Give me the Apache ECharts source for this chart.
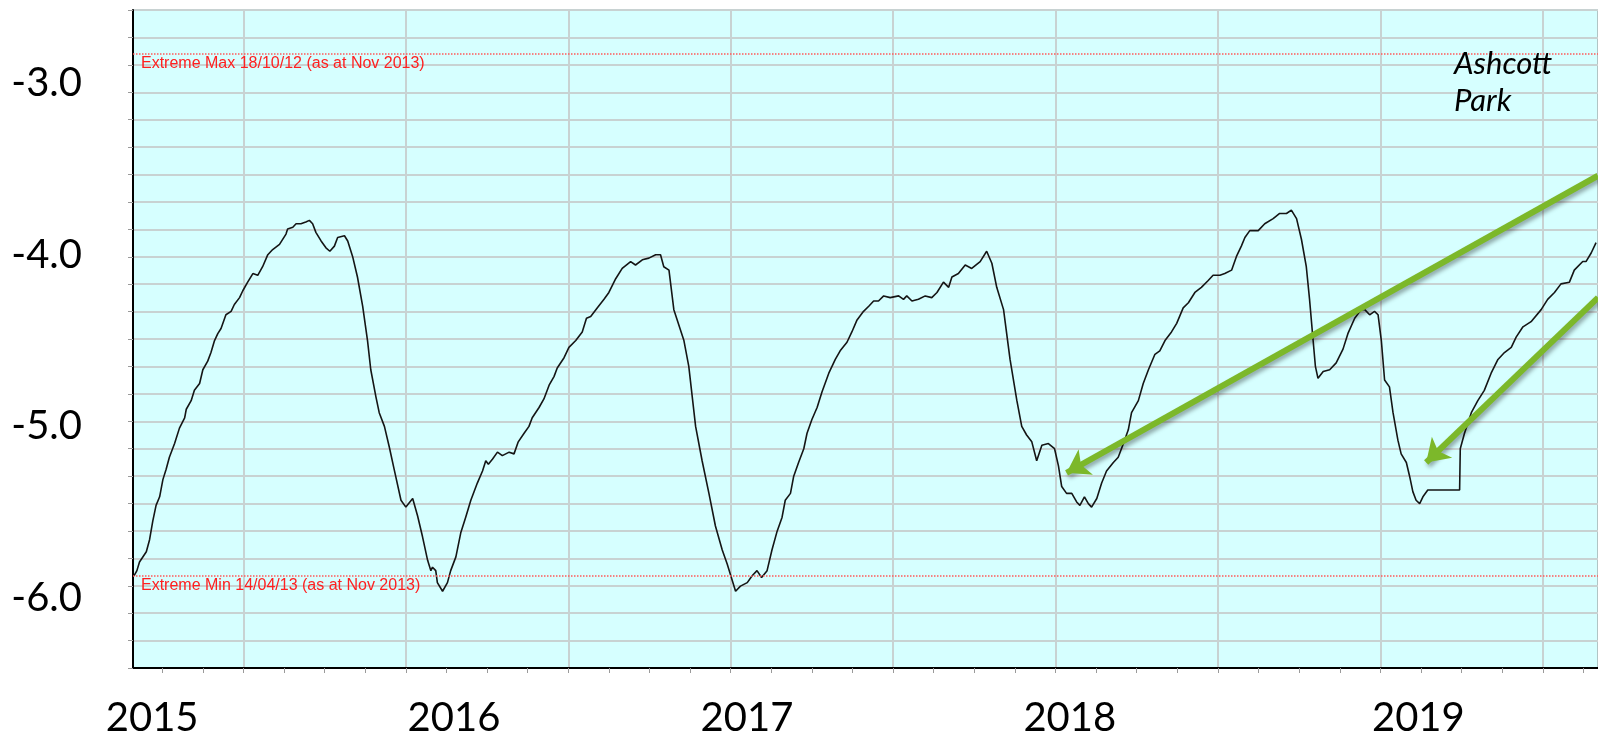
<!DOCTYPE html>
<html>
<head>
<meta charset="utf-8">
<title>Ashcott Park</title>
<script src="https://cdn.jsdelivr.net/npm/echarts@6/dist/echarts.min.js"></script>
<style>
    html, body { margin: 0; padding: 0; background: #fff; }
    #main { width: 1598px; height: 742px; }
</style>
</head>
<body>
<div id="main"></div>
<script>
// time in decimal years, level in m
var dates = [
    2015.663, 2015.672, 2015.680, 2015.701, 2015.711, 2015.721, 2015.731, 2015.742, 2015.752, 2015.762,
    2015.772, 2015.788, 2015.803, 2015.819, 2015.824, 2015.839, 2015.849, 2015.865, 2015.875, 2015.890,
    2015.900, 2015.911, 2015.921, 2015.931, 2015.946, 2015.962, 2015.972, 2015.988, 2015.998, 2016.013,
    2016.029, 2016.044, 2016.059, 2016.075, 2016.090, 2016.111, 2016.131, 2016.136, 2016.152, 2016.162,
    2016.177, 2016.192, 2016.203, 2016.213, 2016.223, 2016.239, 2016.254, 2016.266, 2016.280, 2016.290,
    2016.311, 2016.321, 2016.336, 2016.351, 2016.367, 2016.382, 2016.392, 2016.408, 2016.418, 2016.434,
    2016.449, 2016.464, 2016.485, 2016.500, 2016.521, 2016.536, 2016.551, 2016.567, 2016.577,
    2016.582, 2016.592, 2016.597, 2016.613, 2016.628, 2016.638, 2016.654, 2016.669, 2016.684, 2016.700,
    2016.720, 2016.736, 2016.746, 2016.754, 2016.767, 2016.782, 2016.797, 2016.818, 2016.833, 2016.846,
    2016.864, 2016.879, 2016.889, 2016.910, 2016.925, 2016.941, 2016.956, 2016.966, 2016.987, 2017.002,
    2017.023, 2017.043, 2017.056, 2017.069, 2017.089, 2017.110, 2017.125, 2017.146, 2017.166, 2017.192,
    2017.207, 2017.228, 2017.248, 2017.269, 2017.284, 2017.294, 2017.310, 2017.325, 2017.356, 2017.371,
    2017.392, 2017.412, 2017.433, 2017.453, 2017.474, 2017.489, 2017.502,
    2017.504, 2017.515, 2017.530, 2017.551, 2017.566, 2017.581, 2017.595, 2017.612, 2017.627, 2017.643,
    2017.658, 2017.668, 2017.684, 2017.694, 2017.709, 2017.725, 2017.735, 2017.750, 2017.766, 2017.781,
    2017.802, 2017.822, 2017.837, 2017.858, 2017.873, 2017.889, 2017.909, 2017.925, 2017.940, 2017.955,
    2017.971, 2017.991, 2018.017, 2018.032, 2018.042, 2018.058, 2018.078, 2018.099, 2018.119, 2018.135,
    2018.155, 2018.171, 2018.181, 2018.201, 2018.222, 2018.242, 2018.268, 2018.288, 2018.304, 2018.319,
    2018.340, 2018.360, 2018.381, 2018.396, 2018.411, 2018.427,
    2018.442, 2018.458, 2018.478, 2018.497, 2018.509, 2018.519, 2018.534, 2018.550, 2018.565, 2018.575,
    2018.589, 2018.601, 2018.611, 2018.627, 2018.642, 2018.657, 2018.678, 2018.693, 2018.709, 2018.724,
    2018.734, 2018.755, 2018.770, 2018.786, 2018.806, 2018.821, 2018.837, 2018.857, 2018.873, 2018.893,
    2018.909, 2018.929, 2018.949, 2018.970, 2018.985, 2019.006, 2019.021, 2019.042, 2019.057, 2019.072,
    2019.083, 2019.098, 2019.124, 2019.144, 2019.170, 2019.190, 2019.211, 2019.226, 2019.242, 2019.257,
    2019.272, 2019.282, 2019.293, 2019.300, 2019.308, 2019.324, 2019.344,
    2019.349, 2019.364, 2019.385, 2019.400, 2019.421, 2019.441, 2019.452, 2019.467, 2019.482, 2019.493,
    2019.503, 2019.513, 2019.528, 2019.539, 2019.554, 2019.564, 2019.580, 2019.590, 2019.600, 2019.610,
    2019.621, 2019.631, 2019.646, 2019.744, 2019.746, 2019.759, 2019.780, 2019.800, 2019.820, 2019.841,
    2019.862, 2019.882, 2019.903, 2019.918, 2019.939, 2019.964, 2019.995, 2020.015, 2020.036, 2020.056,
    2020.082, 2020.097, 2020.123, 2020.133, 2020.149, 2020.164
];
var levels = [
    -5.87, -5.84, -5.79, -5.73, -5.66, -5.55, -5.46, -5.41, -5.31, -5.25,
    -5.18, -5.10, -5.01, -4.95, -4.90, -4.85, -4.79, -4.75, -4.67, -4.62,
    -4.57, -4.50, -4.46, -4.43, -4.35, -4.33, -4.29, -4.25, -4.21, -4.16,
    -4.11, -4.12, -4.07, -4.00, -3.97, -3.94, -3.88, -3.85, -3.84, -3.82,
    -3.82, -3.81, -3.80, -3.82, -3.87, -3.92, -3.96, -3.98, -3.95, -3.90,
    -3.89, -3.92, -4.01, -4.13, -4.30, -4.50, -4.67, -4.83, -4.92, -5.00,
    -5.12, -5.25, -5.43, -5.47, -5.42, -5.52, -5.64, -5.78, -5.84,
    -5.82, -5.84, -5.91, -5.96, -5.91, -5.84, -5.76, -5.62, -5.53, -5.43,
    -5.33, -5.26, -5.20, -5.22, -5.19, -5.15, -5.17, -5.15, -5.16, -5.09,
    -5.04, -5.00, -4.95, -4.89, -4.84, -4.76, -4.71, -4.66, -4.60, -4.54,
    -4.50, -4.45, -4.37, -4.36, -4.31, -4.26, -4.22, -4.14, -4.08, -4.04,
    -4.06, -4.03, -4.02, -4.00, -4.00, -4.07, -4.09, -4.32, -4.50, -4.65,
    -5.00, -5.20, -5.39, -5.58, -5.72, -5.80, -5.88,
    -5.89, -5.96, -5.93, -5.91, -5.87, -5.84, -5.88, -5.84, -5.72, -5.61,
    -5.53, -5.43, -5.39, -5.29, -5.21, -5.13, -5.04, -4.96, -4.89, -4.80,
    -4.69, -4.61, -4.56, -4.51, -4.45, -4.38, -4.33, -4.30, -4.27, -4.27,
    -4.24, -4.25, -4.24, -4.26, -4.24, -4.27, -4.26, -4.24, -4.25, -4.22,
    -4.16, -4.19, -4.13, -4.11, -4.06, -4.08, -4.04, -3.98, -4.05, -4.19,
    -4.32, -4.61, -4.85, -5.00, -5.05, -5.09,
    -5.20, -5.11, -5.10, -5.13, -5.23, -5.35, -5.39, -5.39, -5.44, -5.46,
    -5.41, -5.45, -5.47, -5.42, -5.33, -5.26, -5.21, -5.18, -5.10, -5.02,
    -4.92, -4.85, -4.75, -4.67, -4.58, -4.56, -4.50, -4.45, -4.40, -4.31,
    -4.28, -4.22, -4.19, -4.15, -4.12, -4.12, -4.11, -4.09, -4.01, -3.95,
    -3.90, -3.86, -3.86, -3.82, -3.79, -3.76, -3.76, -3.74, -3.79, -3.91,
    -4.07, -4.26, -4.50, -4.65, -4.72, -4.68, -4.67,
    -4.67, -4.63, -4.55, -4.46, -4.37, -4.32, -4.32, -4.35, -4.33, -4.35,
    -4.50, -4.73, -4.77, -4.92, -5.08, -5.16, -5.21, -5.29, -5.38, -5.43,
    -5.45, -5.41, -5.37, -5.37, -5.13, -5.04, -4.92, -4.85, -4.79, -4.69,
    -4.61, -4.57, -4.54, -4.48, -4.42, -4.39, -4.32, -4.26, -4.22, -4.17,
    -4.16, -4.09, -4.04, -4.04, -3.99, -3.93
];

var yearLabels = ['2015', '2016', '2017', '2018', '2019'];
var yearLabelAt = [2015.719, 2016.648, 2017.550, 2018.544, 2019.617];
var levelLabels = [-6, -5, -4, -3];
var gridYears = [2016, 2016.5, 2017, 2017.5, 2018, 2018.5, 2019, 2019.5, 2020];

var extremeMax = -2.83, extremeMaxText = 'Extreme Max 18/10/12 (as at Nov 2013)';
var extremeMin = -5.87, extremeMinText = 'Extreme Min 14/04/13 (as at Nov 2013)';
var arrowA = [[2020.17, -3.54], [2018.534, -5.27]];
var arrowB = [[2020.17, -4.25], [2019.641, -5.21]];

var xMin = 2015.66, xMax = 2020.17;
var yMin = -6.407, yMax = -2.575;

var minorTicks = [];
for (var m = 2015.75; m <= 2020.13; m += 0.125) {
    minorTicks.push(Math.round(m * 1000) / 1000);
}

var chart = echarts.init(document.getElementById('main'), null, {renderer: 'canvas'});

function arrowItem(a) {
    return [
        {coord: a[0], symbol: 'none'},
        {coord: a[1], symbol: 'arrow', symbolSize: 22}
    ];
}

var option = {
    animation: false,
    title: {
        text: 'Ashcott\nPark',
        left: 1449,
        top: 40,
        textStyle: {
            fontFamily: 'Lato',
            fontStyle: 'italic',
            fontWeight: 'normal',
            fontSize: 31,
            lineHeight: 37,
            color: '#000'
        }
    },
    grid: {
        left: 133, right: -2, top: 10, bottom: 74,
        show: true,
        backgroundColor: '#d6ffff',
        borderColor: '#8a8a8a',
        borderWidth: 1
    },
    xAxis: [
        {
            type: 'value', min: xMin, max: xMax, position: 'bottom',
            axisLine: {onZero: false, lineStyle: {color: '#000', width: 2}},
            axisTick: {show: false},
            splitLine: {show: false},
            axisLabel: {
                customValues: yearLabelAt,
                margin: 30,
                fontFamily: 'Lato', fontSize: 40, color: '#000',
                formatter: function (v) {
                    var best = 0;
                    for (var i = 1; i < yearLabelAt.length; i++) {
                        if (Math.abs(yearLabelAt[i] - v) < Math.abs(yearLabelAt[best] - v)) best = i;
                    }
                    return yearLabels[best];
                }
            }
        },
        {
            type: 'value', min: xMin, max: xMax, position: 'bottom',
            axisLine: {show: false, onZero: false},
            axisLabel: {show: false},
            axisTick: {show: true, customValues: gridYears, length: 5, lineStyle: {color: '#9a9a9a'}},
            splitLine: {show: true, lineStyle: {color: '#c8d2d2', width: 2}}
        },
        {
            type: 'value', min: xMin, max: xMax, position: 'bottom',
            axisLine: {show: false, onZero: false},
            axisLabel: {show: false},
            axisTick: {show: true, customValues: minorTicks, length: 5, lineStyle: {color: '#9a9a9a'}},
            splitLine: {show: false}
        }
    ],
    yAxis: [
        {
            type: 'value', min: yMin, max: yMax, position: 'left',
            axisLine: {show: true, onZero: false, lineStyle: {color: '#000', width: 2}},
            axisTick: {show: false},
            splitLine: {show: false},
            axisLabel: {
                customValues: levelLabels,
                margin: 51,
                fontFamily: 'Lato', fontSize: 40, color: '#000',
                formatter: function (v) { return v.toFixed(1); }
            }
        },
        {
            type: 'value', min: 0, max: 24, interval: 1, position: 'left',
            axisLine: {show: false, onZero: false},
            axisLabel: {show: false},
            axisTick: {show: true, length: 5, lineStyle: {color: '#9a9a9a'}},
            splitLine: {show: true, lineStyle: {color: '#c8d2d2', width: 2}}
        }
    ],
    series: [
        {
            name: 'Ashcott Park',
            type: 'line',
            xAxisIndex: 0,
            yAxisIndex: 0,
            showSymbol: false,
            data: dates.map(function (t, i) { return [t, levels[i]]; }),
            lineStyle: {color: '#151515', width: 1.6},
            markLine: {
                silent: true,
                symbol: 'none',
                data: [
                    {
                        yAxis: extremeMax,
                        lineStyle: {color: '#ff5a5a', type: 'dotted', width: 1.5},
                        label: {
                            show: true, position: 'insideStartBottom', distance: [8, 2],
                            formatter: extremeMaxText,
                            fontFamily: 'Liberation Sans', fontSize: 16, color: '#ff2020'
                        }
                    },
                    {
                        yAxis: extremeMin,
                        lineStyle: {color: '#ff5a5a', type: 'dotted', width: 1.5},
                        label: {
                            show: true, position: 'insideStartBottom', distance: [8, 2],
                            formatter: extremeMinText,
                            fontFamily: 'Liberation Sans', fontSize: 16, color: '#ff2020'
                        }
                    },
                    arrowItem(arrowA),
                    arrowItem(arrowB)
                ].map(function (d) {
                    if (Array.isArray(d)) {
                        d[0].lineStyle = {
                            color: '#7cb82a', width: 6, type: 'solid',
                            shadowBlur: 4, shadowColor: 'rgba(0,0,0,0.35)',
                            shadowOffsetX: 2, shadowOffsetY: 3
                        };
                        d[0].label = {show: false};
                    }
                    return d;
                })
            }
        }
    ]
};

chart.setOption(option);
</script>
</body>
</html>
